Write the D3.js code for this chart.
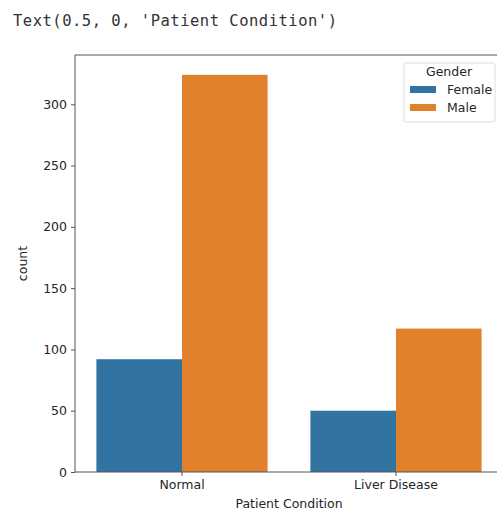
<!DOCTYPE html>
<html>
<head>
<meta charset="utf-8">
<script src="https://cdn.jsdelivr.net/npm/d3@7"></script>
<style>
  body { margin: 0; background: #fff; overflow: hidden; }
  svg { display: block; }
  text { font-family: "DejaVu Sans", sans-serif; fill: #262626; }
</style>
</head>
<body>
<div id="chart"></div>
<script>
const conditions = ['Normal', 'Liver Disease'];
const genders = ['Female', 'Male'];
const femaleCounts = [92, 50];
const maleCounts = [324, 117];
const yTicks = [0, 50, 100, 150, 200, 250, 300];
const colors = ['#3274a1', '#e1812c'];

const width = 497, height = 512;
const margin = { top: 55, left: 75 };
const plotW = 428, plotH = 417;
const fs = '12.5px';

const svg = d3.select('#chart').append('svg')
    .attr('width', width)
    .attr('height', height);

// notebook output line above the figure
svg.append('text')
    .attr('x', 13)
    .attr('y', 26)
    .attr('textLength', 324)
    .attr('lengthAdjust', 'spacing')
    .style('font-family', '"DejaVu Sans Mono", monospace')
    .style('font-size', '15.5px')
    .style('fill', '#333')
    .text("Text(0.5, 0, 'Patient Condition')");

const g = svg.append('g')
    .attr('transform', `translate(${margin.left},${margin.top})`);

const rows = conditions.map((c, i) => ({ cond: c, values: [femaleCounts[i], maleCounts[i]] }));

const x0 = d3.scaleBand()
    .domain(conditions)
    .range([0, plotW])
    .paddingInner(0.2)
    .paddingOuter(0.1);

const x1 = d3.scaleBand()
    .domain(genders)
    .range([0, x0.bandwidth()]);

const y = d3.scaleLinear()
    .domain([0, d3.max(maleCounts) * 1.05])
    .range([plotH, 0]);

// bars
g.selectAll('.grp')
    .data(rows)
    .enter()
    .append('g')
    .attr('transform', d => `translate(${x0(d.cond)},0)`)
    .selectAll('rect')
    .data(d => d.values.map((v, j) => ({ gender: genders[j], value: v, color: colors[j] })))
    .enter()
    .append('rect')
    .attr('x', d => x1(d.gender))
    .attr('y', d => y(d.value))
    .attr('width', x1.bandwidth())
    .attr('height', d => plotH - y(d.value))
    .attr('fill', d => d.color);

// axes
const yAxis = g.append('g')
    .call(d3.axisLeft(y).tickValues(yTicks).tickSize(4).tickPadding(4));
yAxis.select('.domain').remove();
yAxis.selectAll('line').attr('stroke', '#555');
yAxis.selectAll('text').style('font-size', fs).style('font-family', '"DejaVu Sans", sans-serif').attr('fill', '#262626');

const xAxis = g.append('g')
    .attr('transform', `translate(0,${plotH})`)
    .call(d3.axisBottom(x0).tickSize(4).tickPadding(4));
xAxis.select('.domain').remove();
xAxis.selectAll('line').attr('stroke', '#555');
xAxis.selectAll('text').style('font-size', fs).style('font-family', '"DejaVu Sans", sans-serif').attr('fill', '#262626');

// spines (the right one falls outside the cropped view)
g.append('line').attr('x1', 0).attr('x2', 0).attr('y1', 0).attr('y2', plotH).attr('stroke', '#555');
g.append('line').attr('x1', 0).attr('x2', plotW).attr('y1', plotH).attr('y2', plotH).attr('stroke', '#555');
g.append('line').attr('x1', 0).attr('x2', plotW).attr('y1', 0).attr('y2', 0).attr('stroke', '#555');

// axis labels
g.append('text')
    .attr('transform', `translate(-48,${plotH / 2}) rotate(-90)`)
    .attr('text-anchor', 'middle')
    .style('font-size', fs)
    .text('count');

g.append('text')
    .attr('x', plotW / 2)
    .attr('y', plotH + 36)
    .attr('text-anchor', 'middle')
    .style('font-size', fs)
    .text('Patient Condition');

// legend
const legend = g.append('g')
    .attr('transform', `translate(${plotW - 99},8)`);

legend.append('rect')
    .attr('width', 91)
    .attr('height', 59)
    .attr('rx', 2)
    .attr('fill', '#fff')
    .attr('stroke', '#ddd');

legend.append('text')
    .attr('x', 45)
    .attr('y', 13)
    .attr('text-anchor', 'middle')
    .style('font-size', fs)
    .text('Gender');

genders.forEach((gname, i) => {
    legend.append('rect')
        .attr('x', 6)
        .attr('y', 23 + i * 18)
        .attr('width', 26)
        .attr('height', 7)
        .attr('fill', colors[i]);
    legend.append('text')
        .attr('x', 43)
        .attr('y', 31 + i * 18)
        .style('font-size', fs)
        .text(gname);
});
</script>
</body>
</html>
